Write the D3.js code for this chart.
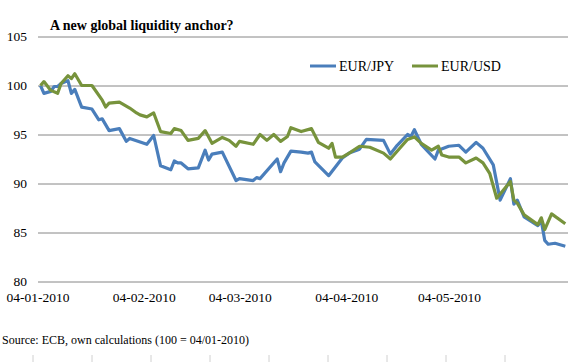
<!DOCTYPE html>
<html>
<head>
<meta charset="utf-8">
<script src="https://cdn.jsdelivr.net/npm/d3@7"></script>
<style>
  body { margin: 0; background: #fff; }
  svg { display: block; }
</style>
</head>
<body>
<div id="chart"></div>
<script>
// data (index, 100 = 04/01-2010)
var jpyDates = ["2010-01-04","2010-01-05","2010-01-07","2010-01-08","2010-01-09","2010-01-10","2010-01-12","2010-01-13","2010-01-14","2010-01-16",
  "2010-01-19","2010-01-21","2010-01-22","2010-01-24","2010-01-27","2010-01-29","2010-01-30","2010-02-04","2010-02-06","2010-02-08",
  "2010-02-11","2010-02-12","2010-02-13","2010-02-14","2010-02-16","2010-02-19","2010-02-21","2010-02-22","2010-02-23","2010-02-26",
  "2010-03-02","2010-03-03","2010-03-07","2010-03-08","2010-03-09","2010-03-14","2010-03-15","2010-03-16","2010-03-18","2010-03-21",
  "2010-03-23","2010-03-24","2010-03-25","2010-03-29","2010-04-02","2010-04-04","2010-04-07","2010-04-09","2010-04-14","2010-04-16",
  "2010-04-18","2010-04-21","2010-04-22","2010-04-23","2010-04-25","2010-04-29","2010-04-30","2010-05-03","2010-05-06","2010-05-08",
  "2010-05-11","2010-05-13","2010-05-16","2010-05-18","2010-05-21","2010-05-22","2010-05-23","2010-05-25","2010-05-29","2010-05-30",
  "2010-05-31","2010-06-01","2010-06-03","2010-06-06"]
var jpyValues = [100, 99.2, 99.4, 99.9, 99.9, 100.2, 100.5, 99.2, 99.6, 97.8,
  97.6, 96.5, 96.6, 95.4, 95.6, 94.3, 94.6, 94.0, 94.9, 91.8,
  91.4, 92.3, 92.1, 92.1, 91.5, 91.6, 93.4, 92.4, 93.0, 93.2,
  90.3, 90.5, 90.3, 90.6, 90.5, 92.5, 91.2, 92.1, 93.3, 93.2,
  93.1, 93.2, 92.2, 90.8, 92.6, 93.1, 93.5, 94.5, 94.4, 93.0,
  93.9, 95.0, 94.8, 95.5, 94.0, 92.5, 93.4, 93.8, 93.9, 93.2,
  94.2, 93.6, 91.9, 88.3, 90.5, 87.9, 88.3, 86.6, 85.7, 86.2,
  84.2, 83.8, 83.9, 83.6]

var usdDates = ["2010-01-04","2010-01-05","2010-01-07","2010-01-09","2010-01-10","2010-01-12","2010-01-13","2010-01-14","2010-01-16","2010-01-19",
  "2010-01-22","2010-01-23","2010-01-24","2010-01-27","2010-01-30","2010-02-01","2010-02-02","2010-02-04","2010-02-06","2010-02-08",
  "2010-02-11","2010-02-12","2010-02-14","2010-02-16","2010-02-19","2010-02-21","2010-02-23","2010-02-26","2010-02-28","2010-03-02",
  "2010-03-03","2010-03-07","2010-03-09","2010-03-11","2010-03-13","2010-03-15","2010-03-17","2010-03-18","2010-03-21","2010-03-24",
  "2010-03-26","2010-03-29","2010-03-30","2010-03-31","2010-04-02","2010-04-04","2010-04-07","2010-04-10","2010-04-14","2010-04-16",
  "2010-04-19","2010-04-21","2010-04-23","2010-04-25","2010-04-28","2010-04-30","2010-05-01","2010-05-03","2010-05-06","2010-05-08",
  "2010-05-11","2010-05-13","2010-05-15","2010-05-17","2010-05-21","2010-05-22","2010-05-23","2010-05-25","2010-05-29","2010-05-30",
  "2010-05-31","2010-06-02","2010-06-06"]
var usdValues = [100, 100.4, 99.5, 99.2, 100.2, 101.0, 100.7, 101.2, 100.0, 100.0,
  98.5, 97.8, 98.2, 98.3, 97.7, 97.2, 97.0, 96.8, 97.2, 95.3,
  95.1, 95.6, 95.4, 94.4, 94.6, 95.4, 94.1, 94.7, 94.4, 93.8,
  94.3, 94.0, 95.0, 94.4, 95.0, 94.3, 94.8, 95.7, 95.3, 95.6,
  94.2, 93.6, 94.1, 92.7, 92.7, 93.1, 93.8, 93.7, 93.1, 92.5,
  93.7, 94.5, 94.75, 94.1, 93.4, 93.8, 92.9, 92.7, 92.7, 92.1,
  92.6, 92.1, 91.0, 88.5, 90.2, 88.3, 88.0, 86.8, 85.8, 86.5,
  85.3, 86.9, 85.9]

var seriesNames = ["EUR/JPY", "EUR/USD"]
var seriesColors = ["#4a7ebb", "#77933c"]
var yTicks = [80, 85, 90, 95, 100, 105]
var xTickDates = ["2010-01-04", "2010-02-04", "2010-03-04", "2010-04-04", "2010-05-04"]

var width = 568, height = 362
var parse = d3.timeParse("%Y-%m-%d")
var fmt = d3.timeFormat("%d-%m-%Y")

var svg = d3.select("#chart").append("svg")
    .attr("width", width)
    .attr("height", height)

var x = d3.scaleTime()
    .domain([parse("2010-01-04"), parse("2010-06-06")])
    .range([40.5, 565.3])

var y = d3.scaleLinear()
    .domain([80, 105])
    .range([281.5, 36.5])

// gridlines + y labels
var yAxis = svg.append("g")
    .attr("transform", "translate(38,0)")
    .call(d3.axisLeft(y).tickValues(yTicks).tickSize(-(width - 38)).tickPadding(11))
yAxis.select(".domain").remove()
yAxis.selectAll(".tick line").attr("stroke", "#868686").attr("stroke-width", 1)
yAxis.selectAll(".tick text")
    .attr("font-family", "Liberation Serif, serif")
    .attr("font-size", 13.5)
    .attr("fill", "#000")

// x labels (no axis line, the 80 gridline serves as base)
var xAxis = svg.append("g")
    .attr("transform", "translate(0,292)")
    .call(d3.axisBottom(x).tickValues(xTickDates.map(parse)).tickFormat(fmt).tickSize(0).tickPadding(0))
xAxis.select(".domain").remove()
xAxis.selectAll(".tick text")
    .attr("font-family", "Liberation Serif, serif")
    .attr("font-size", 13.5)
    .attr("fill", "#000")
    .attr("dx", -3)

// lines
var line = d3.line()
    .x(function(d) { return x(d.date) })
    .y(function(d) { return y(d.value) })

var series = [
  jpyDates.map(function(d, i) { return { date: parse(d), value: jpyValues[i] } }),
  usdDates.map(function(d, i) { return { date: parse(d), value: usdValues[i] } })
]

svg.selectAll(".series")
    .data(series)
    .enter()
    .append("path")
      .attr("class", "series")
      .attr("d", line)
      .attr("fill", "none")
      .attr("stroke", function(d, i) { return seriesColors[i] })
      .attr("stroke-width", 3.2)
      .attr("stroke-linejoin", "round")

// title
svg.append("text")
    .attr("x", 50)
    .attr("y", 30)
    .attr("font-family", "Liberation Serif, serif")
    .attr("font-weight", "bold")
    .attr("font-size", 14)
    .text("A new global liquidity anchor?")

// legend
var legend = svg.selectAll(".legend")
    .data(seriesNames)
    .enter()
    .append("g")
      .attr("class", "legend")
      .attr("transform", function(d, i) { return "translate(" + (310 + i * 102) + ",66)" })
legend.append("line")
    .attr("x1", 0).attr("x2", 26)
    .attr("stroke", function(d, i) { return seriesColors[i] })
    .attr("stroke-width", 3)
legend.append("text")
    .attr("x", 29)
    .attr("y", 5)
    .attr("font-family", "Liberation Serif, serif")
    .attr("font-size", 14)
    .text(function(d) { return d })

// source note
svg.append("text")
    .attr("x", 2)
    .attr("y", 344)
    .attr("font-family", "Liberation Serif, serif")
    .attr("font-size", 12)
    .text("Source: ECB, own calculations (100 = 04/01-2010)")

// faint cell borders at bottom edge
svg.selectAll(".cell")
    .data(d3.range(9))
    .enter()
    .append("line")
      .attr("x1", function(i) { return 33 + i * 59 })
      .attr("x2", function(i) { return 33 + i * 59 })
      .attr("y1", 355).attr("y2", 362)
      .attr("stroke", "#d0d0d0")
</script>
</body>
</html>
